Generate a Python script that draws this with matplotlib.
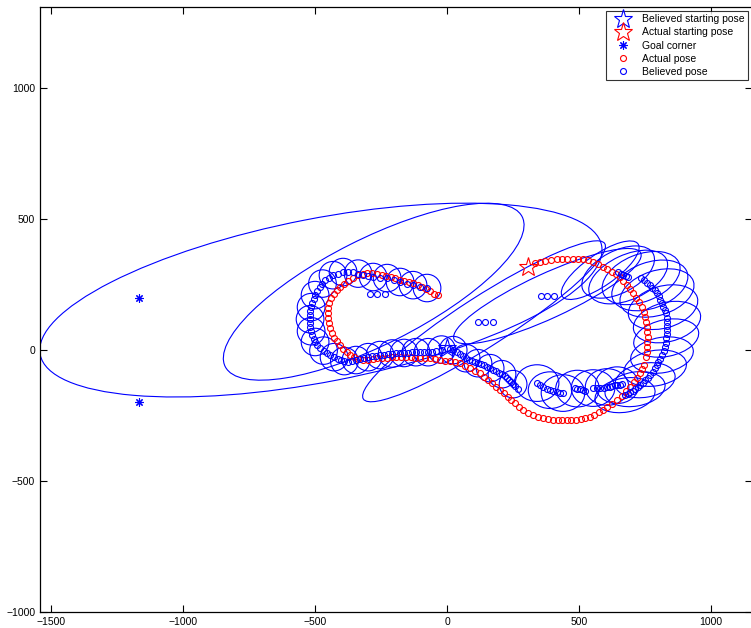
import numpy as np
import matplotlib
matplotlib.use('Agg')
import matplotlib.pyplot as plt
from matplotlib.patches import Ellipse

plt.rcParams['font.family'] = ['Liberation Sans', 'DejaVu Sans']

# actual pose (red circles)
act_x = [333, 352, 372, 393, 417, 436, 456, 476, 496, 515, 534, 553, 572, 591, 607, 623, 639, 655,
         668, 680, 693, 705, 716, 728, 739, 745, 750, 754, 758, 759, 760, 759, 758, 756, 752, 745, 738, 731,
         720, 707, 693, 677, 661, 644, 625, 606, 590, 574, 558, 542, 524, 506, 488, 471, 455,
         437, 419, 401, 383, 364, 345, 326, 307, 288, 272, 257, 243, 229, 215, 201,
         186, 171, 156, 140, 125, 107, 88, 68, 49, 30, 11, -7, -26, -45, -64,
         -83, -102, -120, -138, -156, -174, -192, -210, -228, -246, -264, -282, -300, -318,
         -336, -352, -367, -380, -393, -405, -417, -428, -436, -442, -447, -451, -452, -450, -446,
         -440, -430, -418, -405, -390, -374, -356, -338, -320, -302, -284, -266, -248, -231, -214,
         -197, -180, -163, -146, -129, -112, -96, -80, -64, -48, -36]
act_y = [332, 338, 342, 345, 347, 348, 349, 349, 348, 347, 343, 337, 328, 317, 308, 298, 289, 279,
         264, 249, 234, 218, 200, 182, 164, 145, 126, 107, 88, 69, 50, 30, 11, -8, -27, -55, -72, -88,
         -106, -123, -141, -158, -175, -191, -205, -218, -228, -238, -247, -256, -260, -263, -265, -267, -267,
         -267, -266, -265, -263, -260, -255, -248, -239, -229, -216, -203, -190, -178, -165, -153,
         -140, -127, -114, -101, -88, -79, -69, -59, -50, -46, -43, -40, -37, -34, -31,
         -30, -30, -29, -28, -28, -27, -27, -28, -29, -30, -32, -34, -36, -38,
         -33, -26, -18, -9, 4, 18, 33, 48, 66, 85, 104, 124, 143, 162, 181,
         199, 214, 228, 240, 252, 265, 277, 285, 291, 294, 294, 292, 288, 283, 278,
         274, 269, 264, 260, 256, 248, 240, 232, 224, 216, 210]

# believed pose (blue circles)
bel_x = [-413, -394, -375, -356, -337, -318, -299, -280, -253, -227, -202, -178, -153, -129, -102, -76,
         -432, -447, -462, -472, -481, -491, -500, -506, -511, -515, -519, -519, -519, -519, -519, -515,
         -511, -506, -500, -491, -481, -468, -455, -442, -428, -415, -402, -389, -375,
         -360, -345, -330, -314, -299, -284, -269, -254, -238, -223, -208, -193, -178, -163, -148,
         -133, -118, -102, -87, -72, -57, -42, -21, 0, 12, 23, 36, 49, 60, 72, 84, 95, 106, 117,
         129, 140, 152, 163, 175, 186, 197, 208, 218, 227, 235, 242, 250, 258, 269,
         341, 352, 364, 377, 390, 403, 417, 428, 439, 485, 494, 504, 514, 523,
         553, 566, 580, 593, 606, 616, 625, 635, 644, 654, 663,
         674, 684, 693, 703, 712, 722, 731, 741, 750, 760, 769, 779, 788, 794, 799, 807, 814, 820,
         826, 828, 830, 832, 833, 833, 833, 832, 830, 824, 818, 813, 807, 801, 795, 786, 777, 768,
         758, 747, 735,
         648, 657, 667, 676, 686,
         -292, -265, -235, 117, 144, 174, 356, 379, 405]
bel_y = [292, 298, 298, 298, 292, 286, 282, 279, 277, 275, 268, 260, 254, 248, 242, 237,
         286, 277, 267, 254, 240, 225, 210, 195, 179, 164, 149, 133, 118, 103, 88, 72,
         57, 44, 31, 19, 8, -2, -11, -19, -27, -33, -38, -42, -46,
         -42, -38, -35, -31, -27, -23, -21, -19, -17, -15, -13, -11, -11, -11, -10,
         -8, -8, -8, -8, -8, -6, -4, 2, 8, 4, 0, -8, -15, -23, -31, -37, -42, -46, -50,
         -54, -57, -63, -69, -75, -80, -86, -92, -100, -107, -115, -122, -130, -137, -149,
         -126, -134, -141, -147, -153, -157, -160, -162, -164, -145, -147, -149, -153, -156,
         -145, -145, -145, -143, -141, -139, -137, -135, -134, -132, -130,
         -172, -166, -160, -155, -149, -142, -134, -125, -115, -105, -95, -82, -69, -58, -46, -33, -19, -4,
         11, 28, 46, 61, 76, 92, 107, 124, 141, 153, 164, 178, 191, 205, 218, 228, 237, 247,
         256, 266, 275,
         298, 292, 286, 283, 279,
         214, 214, 214, 107, 107, 107, 206, 206, 206]

# uncertainty ellipses: centre, full width, full height, angle (deg)
big_x = [-478, -278, 140, 380, 580]
big_y = [191, 223, 110, 206, 305]
big_w = [2167, 1262, 1090, 780, 350]
big_h = [623, 402, 190, 170, 120]
big_ang = [11.1, 27, 33, 25, 35]

# small round ones along the left loop and the lower middle
circ_x = [-432, -472, -500, -515, -519, -515, -500, -468, -428, -389,
          -394, -337, -280, -227, -178, -129, -76,
          -345, -299, -254, -208, -163, -118, -72, -21, 23, 72, 117, 163, 208, 250]
circ_y = [286, 254, 210, 164, 118, 72, 31, -2, -27, -42,
          298, 292, 279, 275, 260, 248, 237,
          -38, -27, -19, -13, -11, -8, -8, 2, 0, -31, -50, -69, -92, -130]
circ_d = 105

# flatter ones along the lower right and right loop
flat_x = [341, 390, 439, 494, 553, 606, 644,
          674, 712, 750, 788, 814, 830, 833, 818, 795, 768, 735, 686, 648]
flat_y = [-126, -153, -164, -147, -145, -141, -134,
          -172, -149, -115, -69, -19, 46, 107, 164, 218, 247, 275, 279, 298]
flat_w = [165, 165, 165, 165, 165, 165, 165,
          230, 230, 230, 240, 240, 250, 260, 270, 290, 300, 310, 320, 300]
flat_h = [140, 140, 140, 140, 140, 140, 140,
          130, 130, 130, 135, 135, 140, 150, 160, 170, 175, 180, 170, 160]
flat_ang = [0, 0, 0, 0, 0, 0, 0,
            10, 10, 10, 10, 10, 12, 14, 16, 18, 20, 22, 25, 28]

goal_x = [-1167, -1167, 1167, 1167]
goal_y = [200, -200, 200, -200]
bel_start = (0, 8)
act_start = (307, 317)

fig = plt.figure(figsize=(7.51, 6.28), dpi=100)
ax = fig.add_axes([40/751, 16/628, 712/751, 605/628])

for cx, cy, w, h, a in zip(big_x, big_y, big_w, big_h, big_ang):
    ax.add_patch(Ellipse((cx, cy), w, h, angle=a, fill=False, edgecolor='b', linewidth=0.8))
for cx, cy in zip(circ_x, circ_y):
    ax.add_patch(Ellipse((cx, cy), circ_d, circ_d, fill=False, edgecolor='b', linewidth=0.8))
for cx, cy, w, h, a in zip(flat_x, flat_y, flat_w, flat_h, flat_ang):
    ax.add_patch(Ellipse((cx, cy), w, h, angle=a, fill=False, edgecolor='b', linewidth=0.8))

ax.plot(bel_start[0], bel_start[1], 'b*', markersize=14, fillstyle='none', markeredgewidth=0.8,
        label='Believed starting pose', linestyle='none')
ax.plot(act_start[0], act_start[1], 'r*', markersize=14, fillstyle='none', markeredgewidth=0.8,
        label='Actual starting pose', linestyle='none')
ax.plot(goal_x, goal_y, color='b', marker=(8, 2, 0), markersize=6, markeredgewidth=0.8,
        linestyle='none', label='Goal corner')
ax.plot(act_x, act_y, 'ro', markersize=4.3, fillstyle='none', markeredgewidth=0.8,
        linestyle='none', label='Actual pose')
ax.plot(bel_x, bel_y, 'bo', markersize=4.3, fillstyle='none', markeredgewidth=0.8,
        linestyle='none', label='Believed pose')

ax.set_xlim(-1542, 1155)
ax.set_ylim(-1000, 1310)
ax.set_xticks([-1500, -1000, -500, 0, 500, 1000])
ax.set_yticks([-1000, -500, 0, 500, 1000])
ax.tick_params(direction='in', top=True, right=True, length=5, width=0.8, labelsize=7.5)
for s in ax.spines.values():
    s.set_linewidth(0.9)

leg = ax.legend(loc='upper right', fontsize=7.5, frameon=True, fancybox=False,
                edgecolor='k', borderaxespad=0.4, handlelength=2.8, labelspacing=0.3,
                borderpad=0.3, handletextpad=0.4)
leg.get_frame().set_linewidth(0.8)

fig.savefig('out.png', dpi=100)
